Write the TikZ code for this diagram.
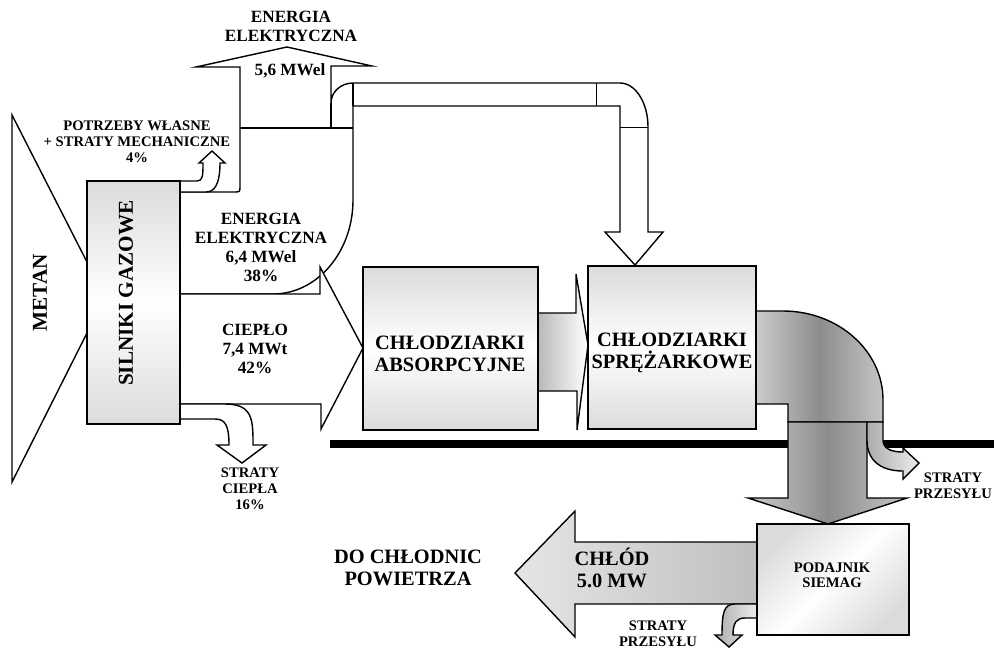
\documentclass[tikz,border=0pt]{standalone}
\usepackage{fontspec}
\setmainfont{Liberation Serif}
\usepackage{tikz}

\begin{document}
\begin{tikzpicture}[x=0.5pt, y=-0.5pt,
    flow/.style={draw, line width=0.7pt, fill=white},
    unit/.style={draw, line width=0.7pt, top color=gray!28, bottom color=gray!28, middle color=white},
    cold/.style={draw, line width=0.7pt, left color=gray!40, right color=gray!45, middle color=gray!90},
    loss/.style={draw, line width=0.7pt, left color=gray!65, right color=gray!15},
    bigtxt/.style={font=\bfseries\fontsize{10.2}{11}\selectfont, align=center},
    midtxt/.style={font=\bfseries\fontsize{8.6}{9.5}\selectfont, align=center},
    smalltxt/.style={font=\bfseries\fontsize{7.3}{7.9}\selectfont, align=center}]
        \useasboundingbox (0,0) rectangle (994,649);

        % Metan inlet
        \draw[flow] (12,115) -- (87,262) -- (87,333) -- (12,482) -- cycle;
        \node[font=\bfseries\fontsize{10.6}{11}\selectfont, rotate=90] (metan) at (40,293) {METAN};

        % Electric energy band with pipe to the compressor chillers
        \draw[flow] (180,192) -- (234,192) .. controls (240,192) .. (240,186) -- (240,67)
            -- (196,67) -- (287,47) -- (372,66) -- (331,66) -- (331,103)
            arc[start angle=180, end angle=270, x radius=22, y radius=20]
            -- (620,83) arc[start angle=-90, end angle=0, x radius=28, y radius=44]
            -- (648,232) -- (663,232) -- (635,265) -- (605,232) -- (620,232)
            -- (620,106) -- (353,106) -- (353,200)
            arc[start angle=0, end angle=90, x radius=80, y radius=94]
            -- (180,294) -- cycle;
        \draw[line width=0.7pt] (240,128) -- (353,128);
        \draw[line width=0.7pt] (331,103) -- (331,128);
        \draw[line width=0.7pt] (353,83) -- (353,106);
        \draw[line width=0.5pt] (596,83) -- (596,106);
        \draw[line width=0.5pt] (620,127) -- (648,127);

        % Own needs and mechanical losses
        \draw[flow] (180,181) -- (197,181) .. controls (203,181) and (203,175) .. (203,163)
            -- (199,163) -- (212,151) -- (225,163) -- (220,163)
            .. controls (220,185) and (214,192) .. (206,192) -- (180,192) -- cycle;

        % Heat
        \draw[flow] (180,294) -- (320,294) -- (320,267) -- (363,348) -- (321,429)
            -- (321,404) -- (180,404) -- cycle;

        % Heat losses
        \draw[flow] (180,404) -- (225,404) .. controls (253,404) and (253,420) .. (253,445)
            -- (266,445) -- (242,463) -- (217,445) -- (229,445)
            .. controls (229,425) and (225,419) .. (215,419) -- (180,419) -- cycle;

        % Gas engines
        \draw[unit] (87,181) rectangle (180,424);
        \node[font=\bfseries\fontsize{10.6}{11}\selectfont, rotate=90] (silniki) at (126,293) {SILNIKI GAZOWE};

        % Labels of the engine outputs
        \node[midtxt] (eltop) at (291,26) {ENERGIA\\ELEKTRYCZNA};
        \node[midtxt] (elval) at (290,71) {5,6 MWel};
        \node[smalltxt] (potrzeby) at (137,142) {POTRZEBY WŁASNE\\+ STRATY MECHANICZNE\\4\%};
        \node[midtxt] (elektr) at (261,247) {ENERGIA\\ELEKTRYCZNA\\6,4 MWel\\38\%};
        \node[midtxt] (cieplo) at (255,349) {CIEPŁO\\7,4 MWt\\42\%};
        \node[smalltxt] (stratyc) at (250,489) {STRATY\\CIEPŁA\\16\%};

        % Absorption -> compressor chillers
        \draw[flow, left color=gray!55, right color=white] (538,313) -- (576,313) -- (576,274)
            -- (588,345) -- (577,430) -- (577,391) -- (538,391) -- cycle;

        % Ground line
        \draw[line width=4pt] (330,444) -- (994,444);

        % Cold from the compressor chillers
        \draw[cold] (756,311) -- (783,311)
            arc[start angle=-90, end angle=0, x radius=100, y radius=89]
            -- (883,422) -- (788,422) -- (788,404) -- (756,404) -- cycle;
        \draw[cold, shading angle=90] (788,422) -- (867,422) -- (867,498) -- (907,498)
            -- (828,524) -- (748,498) -- (788,498) -- cycle;
        \draw[loss] (867,422) -- (883,422) -- (883,440) .. controls (883,448) and (890,452) .. (903,452)
            -- (903,448) -- (919,463) -- (903,479) -- (903,471)
            .. controls (880,471) and (867,460) .. (867,440) -- cycle;
        \node[smalltxt] (stratyp1) at (953,486) {STRATY\\PRZESYŁU};

        % Cold to the air coolers
        \draw[cold, left color=gray!20, right color=gray!50] (757,542) -- (575,542) -- (575,511)
            -- (515,573) -- (575,637) -- (575,604) -- (757,604) -- cycle;
        \draw[loss] (757,604) -- (735,604) .. controls (724,604) and (722,612) .. (722,635)
            -- (715,635) -- (729,647) -- (742,635) -- (733,635)
            .. controls (733,622) and (737,618) .. (745,618) -- (757,618) -- cycle;
        \node[bigtxt] (chlod) at (612,568) {CHŁÓD\\5.0 MW};
        \node[bigtxt] (chlodnice) at (408,568) {DO CHŁODNIC\\POWIETRZA};
        \node[smalltxt] (stratyp2) at (658,634) {STRATY\\PRZESYŁU};

        % Chillers
        \draw[unit] (363,267) rectangle (538,430);
        \node[bigtxt] (absorb) at (450,354) {CHŁODZIARKI\\ABSORPCYJNE};
        \draw[unit] (588,266) rectangle (756,429);
        \node[bigtxt] (sprez) at (672,353) {CHŁODZIARKI\\SPRĘŻARKOWE};

        % Feeder
        \draw[unit, shading angle=45] (757,524) rectangle (909,635);
        \node[smalltxt, text height=5pt] (podajnik) at (832,583) {PODAJNIK\\SIEMAG};
    \end{tikzpicture}
\end{document}
